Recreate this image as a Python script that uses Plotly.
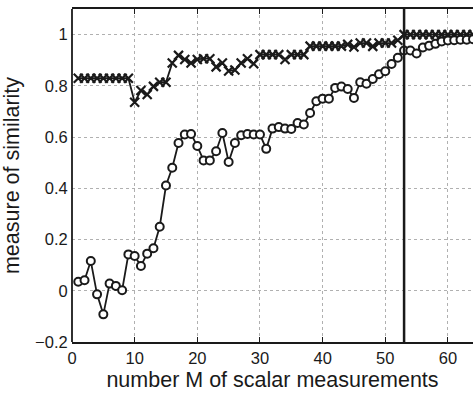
import plotly.graph_objects as go

M = list(range(1, 65))

circle_vals = [0.035, 0.041, 0.116, -0.014, -0.092, 0.028, 0.019, 0.002, 0.142, 0.136,
               0.097, 0.145, 0.166, 0.25, 0.411, 0.48, 0.577, 0.61, 0.612, 0.565,
               0.509, 0.509, 0.545, 0.616, 0.503, 0.577, 0.607, 0.612, 0.61, 0.61,
               0.554, 0.633, 0.639, 0.633, 0.632, 0.655, 0.649, 0.694, 0.74, 0.75,
               0.75, 0.792, 0.797, 0.788, 0.753, 0.814, 0.808, 0.827, 0.845, 0.857,
               0.885, 0.91, 0.938, 0.938, 0.926, 0.95, 0.957, 0.964, 0.973, 0.977,
               0.978, 0.98, 0.98, 0.982]

cross_vals = [0.83, 0.83, 0.83, 0.83, 0.83, 0.83, 0.83, 0.83, 0.83, 0.736,
              0.782, 0.766, 0.798, 0.814, 0.814, 0.889, 0.919, 0.903, 0.889, 0.903,
              0.906, 0.906, 0.874, 0.889, 0.858, 0.862, 0.889, 0.906, 0.886, 0.922,
              0.922, 0.922, 0.922, 0.903, 0.922, 0.922, 0.922, 0.955, 0.955, 0.955,
              0.955, 0.955, 0.955, 0.962, 0.952, 0.967, 0.967, 0.954, 0.967, 0.967,
              0.967, 0.978, 1.0, 1.0, 1.0, 1.0, 1.0, 1.0, 1.0, 1.0,
              1.0, 1.0, 1.0, 1.0]

vline_x = 53

x_ticks = [0, 10, 20, 30, 40, 50, 60]
y_ticks = [-0.2, 0, 0.2, 0.4, 0.6, 0.8, 1]
y_ticktext = ["\u22120.2", "0", "0.2", "0.4", "0.6", "0.8", "1"]

FONT = "Liberation Sans, Arial, sans-serif"
INK = "#1a1a1a"

fig = go.Figure()

fig.add_trace(go.Scatter(
    x=M, y=cross_vals, mode="lines+markers",
    line=dict(color=INK, width=1.8),
    marker=dict(symbol="x-thin-open", size=9, line=dict(color=INK, width=2.2)),
    showlegend=False,
))
fig.add_trace(go.Scatter(
    x=M, y=circle_vals, mode="lines+markers",
    line=dict(color=INK, width=1.8),
    marker=dict(symbol="circle", size=8, color="white", line=dict(color=INK, width=2)),
    showlegend=False,
))

# vertical reference line
fig.add_shape(type="line", xref="x", yref="paper", x0=vline_x, x1=vline_x, y0=0, y1=1,
              line=dict(color=INK, width=2.5), layer="above")
# left axis line
fig.add_shape(type="line", xref="paper", yref="paper", x0=0, x1=0, y0=0, y1=1,
              line=dict(color=INK, width=1.8), layer="above")

grid = dict(showgrid=True, gridcolor="#b0b0b0", griddash="dot", gridwidth=1, zeroline=False)

fig.update_layout(
    width=473, height=397,
    margin=dict(l=72, r=0, t=9, b=55),
    paper_bgcolor="white", plot_bgcolor="white",
    font=dict(family=FONT, color=INK),
    xaxis=dict(
        range=[0, 64], tickvals=x_ticks, ticks="inside", ticklen=5, tickcolor=INK,
        showline=True, linecolor=INK, linewidth=1.8, mirror="ticks",
        tickfont=dict(size=16.5, family=FONT, color=INK),
        title=dict(text="number M of scalar measurements", font=dict(size=21.5, family=FONT, color=INK), standoff=6),
        **grid,
    ),
    yaxis=dict(
        range=[-0.2, 1.1], tickvals=y_ticks, ticktext=y_ticktext, ticks="outside", ticklen=0,
        tickcolor=INK, showline=False,
        tickfont=dict(size=16.5, family=FONT, color=INK),
        title=dict(text="measure of similarity", font=dict(size=21.5, family=FONT, color=INK), standoff=9),
        **grid,
    ),
)

fig.write_html("out.html")
